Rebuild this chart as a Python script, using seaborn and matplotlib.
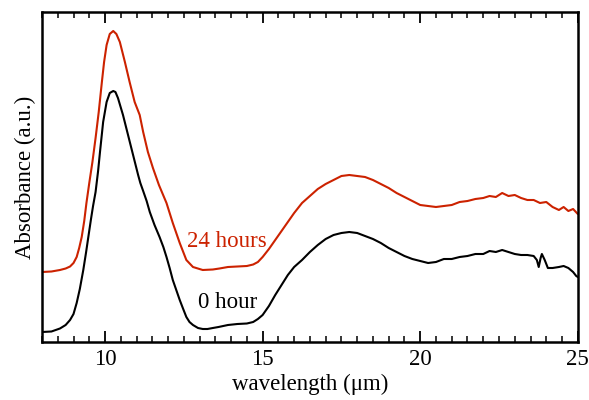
import numpy as np
import pandas as pd
import matplotlib
matplotlib.use("Agg")
import matplotlib.pyplot as plt
import seaborn as sns
from matplotlib.ticker import MultipleLocator

# wavelength (um) and absorbance (a.u., in reference pixel rows)
x_0h = [8.0, 8.3, 8.57, 8.75, 8.89, 9.0, 9.1, 9.2, 9.31, 9.4, 9.47, 9.55, 9.62, 9.7, 9.78, 9.84, 9.94, 10.05, 10.15,
        10.26, 10.33, 10.41, 10.57, 10.73, 10.89, 11.05, 11.12, 11.21, 11.32, 11.42, 11.57, 11.73, 11.85, 11.95,
        12.05, 12.15, 12.26, 12.37, 12.48, 12.58, 12.68, 12.79, 12.95, 13.1, 13.25, 13.42, 13.6, 13.9, 14.2, 14.5,
        14.7, 14.85, 15.0, 15.2, 15.4, 15.6, 15.8,
        16.0, 16.25, 16.5, 16.75, 17.0, 17.25, 17.5, 17.75, 18.0, 18.25, 18.5, 18.75, 19.0, 19.25, 19.5, 19.75, 20.0,
        20.25, 20.5, 20.75, 21.0, 21.25, 21.5, 21.75, 22.0, 22.2, 22.4, 22.6, 22.8, 23.0, 23.2, 23.4, 23.6, 23.7,
        23.76, 23.82, 23.86, 23.95, 24.05, 24.2, 24.4, 24.55, 24.7, 24.85, 24.95, 25.0]
y_0h_px = [332, 331.5, 328.5, 325, 320, 314, 303, 289, 270, 252, 237, 220, 206, 192, 171, 152, 122, 102, 93,
           91, 92, 98, 115, 135, 155, 175, 183, 191, 201, 212, 225, 237, 247, 257,
           268, 280, 290, 300, 309, 317, 322, 325, 328, 329, 329, 328, 327, 325, 324, 323.5,
           322, 319, 315, 306, 295, 285, 275,
           267, 260, 252, 245, 239, 235, 233, 232, 233, 236, 239, 243, 248, 252, 256, 259, 261,
           263, 262, 259, 259, 257, 256, 254, 254, 251, 252, 250, 252, 254, 255, 255, 256, 260,
           267, 258, 254, 260, 268, 268, 267, 266, 268, 272, 276, 277]

x_24h = [8.0, 8.3, 8.57, 8.75, 8.89, 9.0, 9.1, 9.18, 9.26, 9.34, 9.41, 9.5, 9.6, 9.7, 9.8, 9.9, 9.97, 10.05, 10.15,
         10.26, 10.36, 10.47, 10.63, 10.78, 10.94, 11.1, 11.21, 11.36, 11.52, 11.71, 11.95, 12.15, 12.37, 12.58,
         12.79, 13.1, 13.42, 13.63, 13.9, 14.2, 14.5, 14.7, 14.85, 15.0, 15.2, 15.4, 15.6, 15.8,
         16.0, 16.25, 16.5, 16.75, 17.0, 17.25, 17.5, 17.75, 18.0, 18.25, 18.5, 18.75, 19.0, 19.25, 19.5, 19.75,
         20.0, 20.25, 20.5, 20.75, 21.0, 21.25, 21.5, 21.75, 22.0, 22.2, 22.4, 22.6, 22.8, 23.0, 23.2, 23.4, 23.6,
         23.8, 24.0, 24.2, 24.4, 24.55, 24.7, 24.85, 25.0]
y_24h_px = [272, 271.5, 270, 268.5, 266.5, 263, 257, 248, 237, 221, 203, 183, 162, 138, 112, 82, 62, 45, 34,
            31, 34, 42, 62, 82, 102, 115, 132, 152, 168, 185, 203, 223, 243, 260,
            267, 270, 269.5, 268.5, 267, 266.5, 266, 264.5, 262, 257, 249, 240, 231, 222,
            213, 203, 196, 189, 184, 180, 176, 175, 176, 177, 180, 184, 188, 193, 197, 201,
            205, 206, 207, 206, 205, 202, 201, 199, 198, 196, 197, 193, 196, 195, 198, 200, 200,
            203, 202, 207, 210, 207, 211, 209, 214]

y_0h = [(342 - v) / 330 for v in y_0h_px]
y_24h = [(342 - v) / 330 for v in y_24h_px]

labels = ["0 hour", "24 hours"]
colors = {"0 hour": "#000000", "24 hours": "#cc2200"}

df = pd.concat([
    pd.DataFrame({"wavelength": x_0h, "absorbance": y_0h, "series": labels[0]}),
    pd.DataFrame({"wavelength": x_24h, "absorbance": y_24h, "series": labels[1]}),
])

sns.set_theme(style="ticks")
plt.rcParams["font.family"] = ["Liberation Serif", "DejaVu Serif"]
plt.rcParams["text.color"] = "black"
plt.rcParams["axes.labelcolor"] = "black"
plt.rcParams["xtick.color"] = "black"
plt.rcParams["ytick.color"] = "black"

fig = plt.figure(figsize=(5.89, 4.0), dpi=100)
ax = fig.add_axes([0.0713, 0.145, 0.9097, 0.825])

sns.lineplot(data=df, x="wavelength", y="absorbance", hue="series", palette=colors,
             ax=ax, legend=False, linewidth=1.5, sort=False, estimator=None)

ax.set_xlim(8, 25)
ax.set_ylim(0, 1)
ax.xaxis.set_major_locator(MultipleLocator(5))
ax.xaxis.set_minor_locator(MultipleLocator(0.5))
ax.set_yticks([])
ax.tick_params(axis="x", which="both", direction="in", top=True, bottom=True,
               labelsize=16.5, pad=5, colors="black")
ax.tick_params(axis="x", which="major", length=8, width=1.3)
ax.tick_params(axis="x", which="minor", length=4, width=1.1)
for s in ax.spines.values():
    s.set_linewidth(1.8)
    s.set_color("black")

ax.set_xlabel("wavelength (\u03bcm)", fontsize=16.5, labelpad=3, color="black")
ax.set_ylabel("Absorbance (a.u.)", fontsize=16.5, labelpad=4, color="black")

ax.text(13.88, (342 - 241) / 330, "24 hours", color=colors["24 hours"], fontsize=16.5, ha="center", va="center")
ax.text(13.88, (342 - 302) / 330, "0 hour", color="black", fontsize=16.5, ha="center", va="center")

fig.savefig("out.png", dpi=100)
